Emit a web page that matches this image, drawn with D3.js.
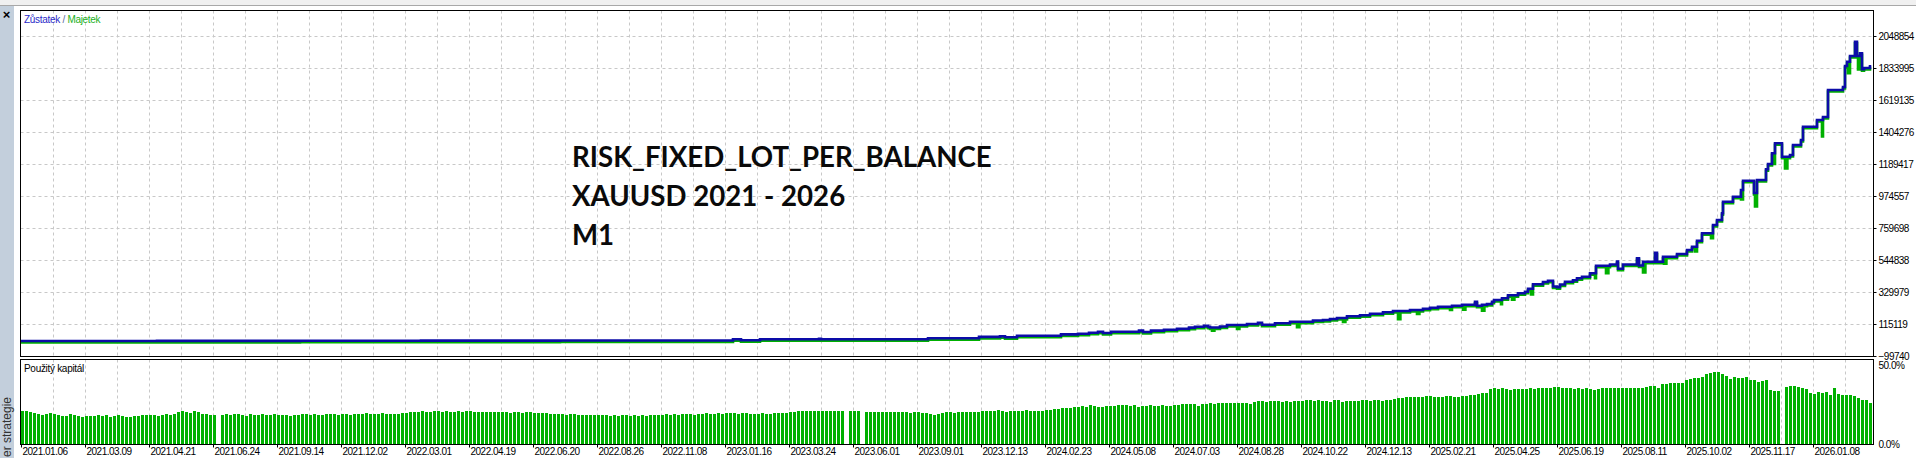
<!DOCTYPE html>
<html>
<head>
<meta charset="utf-8">
<script src="https://cdn.jsdelivr.net/npm/d3@7"></script>
<style>
html, body { margin: 0; padding: 0; background: #fff; overflow: hidden; }
svg { display: block; font-family: "Liberation Sans", Arial, sans-serif; }
</style>
</head>
<body>
<svg id="chart" width="1916" height="458"></svg>
<script>
'use strict';

// x axis labels, one every 16 deals
var dateLabels = ['2021.01.06', '2021.03.09', '2021.04.21', '2021.06.24', '2021.09.14',
    '2021.12.02', '2022.03.01', '2022.04.19', '2022.06.20', '2022.08.26', '2022.11.08',
    '2023.01.16', '2023.03.24', '2023.06.01', '2023.09.01', '2023.12.13', '2024.02.23',
    '2024.05.08', '2024.07.03', '2024.08.28', '2024.10.22', '2024.12.13', '2025.02.21',
    '2025.04.25', '2025.06.19', '2025.08.11', '2025.10.02', '2025.11.17', '2026.01.08'];

var valueTicks = [-99740, 115119, 329979, 544838, 759698, 974557, 1189417, 1404276,
    1619135, 1833995, 2048854];
var loadTicks = [0, 50];

// Zůstatek (balance), step points: deal index / value
var balanceT = [0, 34, 69.75, 100, 134.75, 178, 180, 184.75, 199.5, 200, 226.75, 239.5,
    244.75, 246, 249, 260, 264.25, 267, 269.25, 270.5, 272.5, 279.5, 280.5, 282.5, 285.75,
    289, 292, 293.5, 295.75, 296.75, 297.25, 299.75, 301.5, 306.5, 309.25, 310.25, 313.5,
    317.25, 323, 325.5, 327.25, 329, 331.5, 334.75, 337.25, 340.5, 343, 347.25, 350.5,
    352.25, 354.25, 357.75, 360.25, 363.5, 364, 365.25, 366.5, 367.75, 368.25, 370.25,
    371.75, 374.25, 376, 376.75, 378, 380.5, 381.75, 383, 384, 384.75, 386, 388, 389,
    390.25, 392.25, 393.75, 397.25, 399, 399.25, 400.5, 404, 404.5, 405.5, 408.5, 409,
    410.5, 414, 416.5, 417.75, 419, 420.25, 423, 424, 425.25, 425.5, 428, 430, 430.5,
    433.25, 434, 436.25, 436.75, 437.75, 438.5, 440.25, 442.25, 443, 445, 445.5, 449,
    450.5, 451.75, 455.5, 456, 456.5, 457.25, 458.5, 459, 459.75, 460.25, 460.75, 462.25];
var balanceV = [1000, 1800, 2600, 3500, 4300, 13100, 5700, 12400, 16400, 12400, 19800, 28500,
    33200, 26500, 35900, 45300, 49300, 56000, 62750, 54700, 63400, 70800, 61400, 70800, 76850,
    83560, 90950, 97000, 103700, 97000, 91600, 98300, 108400, 115100, 123850, 110400, 119800,
    130600, 138600, 142000, 148700, 155400, 166800, 173500, 184300, 193700, 202400, 209100, 217900,
    224600, 231300, 238000, 244700, 264900, 238000, 244700, 249400, 264900, 276300, 287700,
    307800, 321200, 332000, 352100, 381700, 397100, 405800, 366900, 361500, 380300, 399100, 409200, 421950,
    432700, 455500, 506600, 514600, 534800, 485700, 514600, 556200, 507900, 533400, 593900, 533400,
    566900, 585100, 611800, 634000, 674400, 724100, 779800, 813400, 858400, 936300, 969900, 1014900, 1077300,
    994700, 1082000, 1153800, 1189400, 1261300, 1328400, 1238400, 1249800, 1317000, 1350600, 1439900, 1484800,
    1505000, 1686300, 1706400, 1847400, 1876300, 1914600, 2010600, 1914600, 1932700, 1825200, 1833900, 1854000];

// Majetek (equity) drawdowns below the balance
var dipT = [297.75, 304, 319, 330.5, 344.25, 349, 357.25, 360.5, 365.25, 370, 372.75, 377.5,
    393.5, 396.25, 405.5, 410.75, 418.5, 422.5, 430, 433.5, 438, 441, 450.25, 456.75, 459.25];
var dipV = [79500, 91600, 103700, 138600, 157400, 192300, 219200, 220500, 213800, 258100, 287700, 323300,
    432700, 466300, 471000, 529400, 611800, 701100, 961100, 914100, 1200000, 1169200, 1384100, 1809200, 1833900];

// Použitý kapitál (%), one bar per deal
var loadPct = [
    21.2, 21, 20.5, 20, 19.5, 18.5, 19.5, 19.8, 19.5, 18.8, 17.8, 18.2, 19.2, 18.8, 18, 17.5,
    17.8, 18.2, 18, 18.5, 17.8, 18.3, 17.6, 18.2, 18.5, 17.8, 17.6, 17.5, 18, 17.8, 18.5, 18.3,
    18.3, 18.5, 18.2, 18.6, 19, 18.5, 19.5, 20.5, 21, 20.8, 20, 21.2, 20.3, 19.5, 19, 18.8,
    18.5, 0, 18.8, 19, 18.5, 19.2, 19, 18.5, 18.2, 19, 18.6, 18.8, 19.2, 18.4, 18.8, 19,
    18.6, 18.3, 18.8, 18.2, 18.8, 18.4, 19, 19.2, 18.6, 19, 18.8, 18.9, 19.2, 19.4, 19, 18.8,
    19, 19.2, 18.8, 19.5, 19.2, 19, 19.6, 19.4, 19, 19.3, 19.6, 19.4, 19.2, 19, 19.5, 19.7,
    19.8, 20.2, 20.6, 20.4, 21, 20.8, 20.4, 20.9, 21, 20.7, 21, 20.5, 20.8, 21, 20.6, 20.9,
    21.2, 20.8, 20.6, 20.4, 20.8, 20.5, 20.6, 20.2, 20.4, 20.5, 20.1, 20.4, 20.3, 20, 20.2, 20.4,
    20, 19.8, 19.6, 19.8, 19.4, 19.2, 19.4, 19, 18.8, 19.2, 19, 18.6, 18.8, 18.4, 18.8, 18.5,
    18.6, 18.4, 18.8, 18.2, 18.5, 18, 18.3, 18.6, 18.2, 18.4, 18, 18.4, 18.2, 18.6, 18.3, 18.8,
    18.6, 19, 18.8, 19.2, 18.4, 19, 19.3, 19.2, 18.8, 19.4, 19, 19.6, 19.2, 19.4, 19.6, 19.5,
    19.6, 19.8, 20, 19.4, 19.6, 19.8, 19.5, 19.2, 19.4, 19.6, 19.4, 19.3, 19.6, 19.8, 19.9, 20.1,
    20.6, 20.8, 21, 21.2, 21.2, 21, 21.1, 21.2, 21, 21.3, 21.2, 21, 21.2, 21, 0, 21.2,
    21, 21.2, 0, 20.6, 20.8, 20.6, 20.8, 20.5, 20.6, 20.8, 20.5, 20.8, 20.6, 20.2, 20, 20.4,
    20.4, 20, 19.8, 19.2, 18.8, 19.4, 20, 20.2, 20.4, 20, 20.2, 20.4, 20.2, 20.6, 20.4, 20.8,
    21, 21.2, 21.4, 21.2, 21.6, 21, 20.8, 21.2, 21.4, 21.2, 21.4, 21.6, 21.2, 21, 21.2, 21.4,
    21.6, 22, 22.4, 22.6, 22.8, 22.8, 23, 23.4, 23.8, 24.2, 24, 24.8, 24.2, 24, 23.8, 24.2,
    24.2, 24.6, 25, 25, 24.8, 24.6, 24.8, 24, 24.6, 24.4, 24.8, 24.2, 24.6, 24.8, 24.4, 24.6,
    24.8, 25.2, 25.6, 25.4, 25.8, 25.4, 24.6, 25.6, 25.8, 26, 25.4, 26, 26.2, 26.4, 26.4, 26.2,
    26.2, 26, 26.6, 25.6, 26.8, 27.4, 27.4, 27.2, 27.4, 27.4, 27.4, 27.2, 27.4, 27.2, 27.6, 27.4,
    27.8, 28, 28.2, 27.8, 28, 27.4, 27.6, 27, 28, 28, 27.2, 27.4, 27.8, 27.8, 27.6, 28,
    28, 27.8, 28, 28.2, 27.8, 28, 28.4, 29, 29.6, 29.8, 30, 30.2, 30.2, 30.4, 30.4, 30.6,
    30.6, 30.4, 30.2, 30.4, 30.6, 30.8, 30.4, 30.2, 30.6, 31, 31.4, 31.2, 31.8, 32.4, 33, 35,
    35.8, 35.2, 35.6, 35, 34.6, 35, 35.4, 35, 35.2, 35.6, 35.4, 35.8, 36, 35.6, 36.2, 36.6,
    36.4, 35.8, 35.6, 35.8, 35.2, 35.6, 35.4, 35.8, 35, 34.8, 35.4, 36, 36.2, 36.2, 35.8, 36,
    36, 36.2, 35.6, 36, 35.8, 36.2, 36.6, 37, 37.2, 36.2, 38.2, 38.6, 38.8, 39, 39, 38.8,
    40.8, 41.6, 42.2, 42, 43.2, 44.8, 45.6, 46.4, 46.2, 45, 43.6, 41.4, 43, 42.2, 42.6, 43,
    41, 41, 39.8, 40.4, 40.8, 34.6, 34, 33.8, 0, 36.6, 37.2, 37, 36.8, 35.6, 35.2, 32.6,
    32.2, 33.4, 32.6, 33.4, 31.6, 35.8, 31.8, 31.4, 31.4, 31.4, 30.8, 29.6, 28.4, 28.2, 26.2];

var titleLines = ['RISK_FIXED_LOT_PER_BALANCE', 'XAUUSD 2021 - 2026', 'M1'];

var BLUE = '#0c0ca8', GREEN = '#00b000', GRID = '#c8c8c8';
var LEFT = 20.5, RIGHT = 1873.5;
var MAIN_TOP = 10.5, MAIN_BOTTOM = 356.5, SUB_TOP = 359.5, SUB_BOTTOM = 444.5;

var svg = d3.select('#chart');

var x = d3.scaleLinear().domain([0, 448]).range([21, 1813]);
var y = d3.scaleLinear().domain([-99740, 2048854]).range([356, 36]);
var yLoad = d3.scaleLinear().domain([0, 50]).range([444, 366]);

// window chrome
svg.append('rect').attr('x', 0).attr('y', 0).attr('width', 1916).attr('height', 5)
    .style('fill', '#f0f0f0');
svg.append('line').attr('x1', 0).attr('x2', 1916).attr('y1', 5.5).attr('y2', 5.5)
    .style('stroke', '#a8a8a8');
svg.append('rect').attr('x', 0).attr('y', 6).attr('width', 14).attr('height', 452)
    .style('fill', '#c3cfdc');
svg.append('text').attr('x', 6.5).attr('y', 19).attr('text-anchor', 'middle')
    .style('font-size', '13px').style('font-weight', 'bold').text('\u00d7');
// panel caption, only its tail fits above the window edge
svg.append('text')
    .attr('transform', 'translate(11,457) rotate(-90)')
    .attr('text-anchor', 'start')
    .style('font-size', '12px').style('fill', '#333')
    .text('er strategie');

// grid
var gridT = d3.range(8, 457, 8);
function vGrid(top, bottom) {
    svg.append('g').selectAll('line').data(gridT).enter().append('line')
        .attr('x1', function(d) { return Math.round(x(d)) + 0.5; })
        .attr('x2', function(d) { return Math.round(x(d)) + 0.5; })
        .attr('y1', top).attr('y2', bottom)
        .style('stroke', GRID).style('stroke-dasharray', '3,3');
}
vGrid(MAIN_TOP, MAIN_BOTTOM);
vGrid(SUB_TOP, SUB_BOTTOM);
svg.append('g').selectAll('line').data(valueTicks.slice(1)).enter().append('line')
    .attr('x1', LEFT).attr('x2', RIGHT)
    .attr('y1', function(d) { return Math.round(y(d)) + 0.5; })
    .attr('y2', function(d) { return Math.round(y(d)) + 0.5; })
    .style('stroke', GRID).style('stroke-dasharray', '3,3');

// title block
var title = svg.append('g').style('font-family', 'Lato, "Open Sans", sans-serif')
    .style('font-weight', 700).style('fill', '#0a0a0a');
var titleText = title.selectAll('text').data(titleLines).enter().append('text')
    .attr('x', 572)
    .attr('y', function(d, i) { return 167 + i * 39; })
    .style('font-size', '27px')
    .text(function(d) { return d; });
var w0 = titleText.node().getComputedTextLength();
if (w0) titleText.style('font-size', (27 * 420 / w0) + 'px');

// balance / equity
svg.append('clipPath').attr('id', 'main-clip').append('rect')
    .attr('x', LEFT).attr('y', MAIN_TOP).attr('width', RIGHT - LEFT).attr('height', MAIN_BOTTOM - MAIN_TOP);

function balanceAt(t) {
    return balanceV[Math.max(0, d3.bisectRight(balanceT, t) - 1)];
}
var balancePts = balanceT.map(function(t, i) { return [t, balanceV[i]]; });
var equityPts = balancePts.slice();
dipT.forEach(function(t, i) {
    equityPts.push([t, dipV[i]]);
    equityPts.push([t + 0.6, balanceAt(t + 0.6)]);
});
equityPts.sort(function(a, b) { return a[0] - b[0]; });

var line = d3.line()
    .x(function(d) { return x(d[0]); })
    .y(function(d) { return y(d[1]); })
    .curve(d3.curveStepAfter);

var plot = svg.append('g').attr('clip-path', 'url(#main-clip)');
plot.append('path').datum(equityPts)
    .attr('d', line)
    .attr('transform', 'translate(0,1.5)')
    .style('fill', 'none').style('stroke', GREEN).style('stroke-width', 2.6);
plot.append('path').datum(balancePts)
    .attr('d', line)
    .style('fill', 'none').style('stroke', BLUE).style('stroke-width', 2.6);

// deposit load bars
svg.append('g').selectAll('rect').data(loadPct).enter().append('rect')
    .attr('x', function(d, i) { return Math.round(x(i)); })
    .attr('width', 3)
    .attr('y', function(d) { return yLoad(d); })
    .attr('height', function(d) { return yLoad(0) - yLoad(d); })
    .style('fill', GREEN)
    .style('shape-rendering', 'crispEdges');

// frames
[[MAIN_TOP, MAIN_BOTTOM], [SUB_TOP, SUB_BOTTOM]].forEach(function(p) {
    svg.append('rect').attr('x', LEFT).attr('y', p[0])
        .attr('width', RIGHT - LEFT).attr('height', p[1] - p[0])
        .style('fill', 'none').style('stroke', '#000');
});

// legends
var legend = svg.append('text').attr('x', 24).attr('y', 22.5)
    .style('font-size', '10px').style('letter-spacing', '-0.3px');
legend.append('tspan').style('fill', '#2a2ac8').text('Zůstatek');
legend.append('tspan').style('fill', '#5a6a9a').text(' / ');
legend.append('tspan').style('fill', '#22b022').text('Majetek');
svg.append('text').attr('x', 24).attr('y', 371.5)
    .style('font-size', '10px').style('letter-spacing', '-0.3px').style('fill', '#000')
    .text('Použitý kapitál');

// axes
function styleAxis(g) {
    g.select('.domain').remove();
    g.selectAll('line').style('stroke', '#000');
    g.selectAll('text').style('font-family', '"Liberation Sans", Arial, sans-serif')
        .style('font-size', '10px').style('letter-spacing', '-0.5px').style('fill', '#000');
}

svg.append('g')
    .attr('transform', 'translate(' + RIGHT + ',0)')
    .call(d3.axisRight(y).tickValues(valueTicks).tickSize(3).tickPadding(2)
        .tickFormat(d3.format('d')))
    .call(styleAxis);

svg.append('g')
    .attr('transform', 'translate(' + RIGHT + ',0)')
    .call(d3.axisRight(yLoad).tickValues(loadTicks).tickSize(0).tickPadding(5)
        .tickFormat(function(d) { return d3.format('.1f')(d) + '%'; }))
    .call(styleAxis)
    .selectAll('.tick').attr('transform', function(d) {
        return 'translate(0,' + (d === 0 ? 445 : 366) + ')';
    });

var xAxisEl = svg.append('g')
    .attr('transform', 'translate(0,' + SUB_BOTTOM + ')')
    .call(d3.axisBottom(x).tickValues(d3.range(0, dateLabels.length * 16, 16)).tickSize(3)
        .tickFormat(function(d, i) { return dateLabels[i]; }))
    .call(styleAxis);
xAxisEl.selectAll('text').attr('text-anchor', 'start').attr('x', 1).attr('y', 3.5);
</script>
</body>
</html>
